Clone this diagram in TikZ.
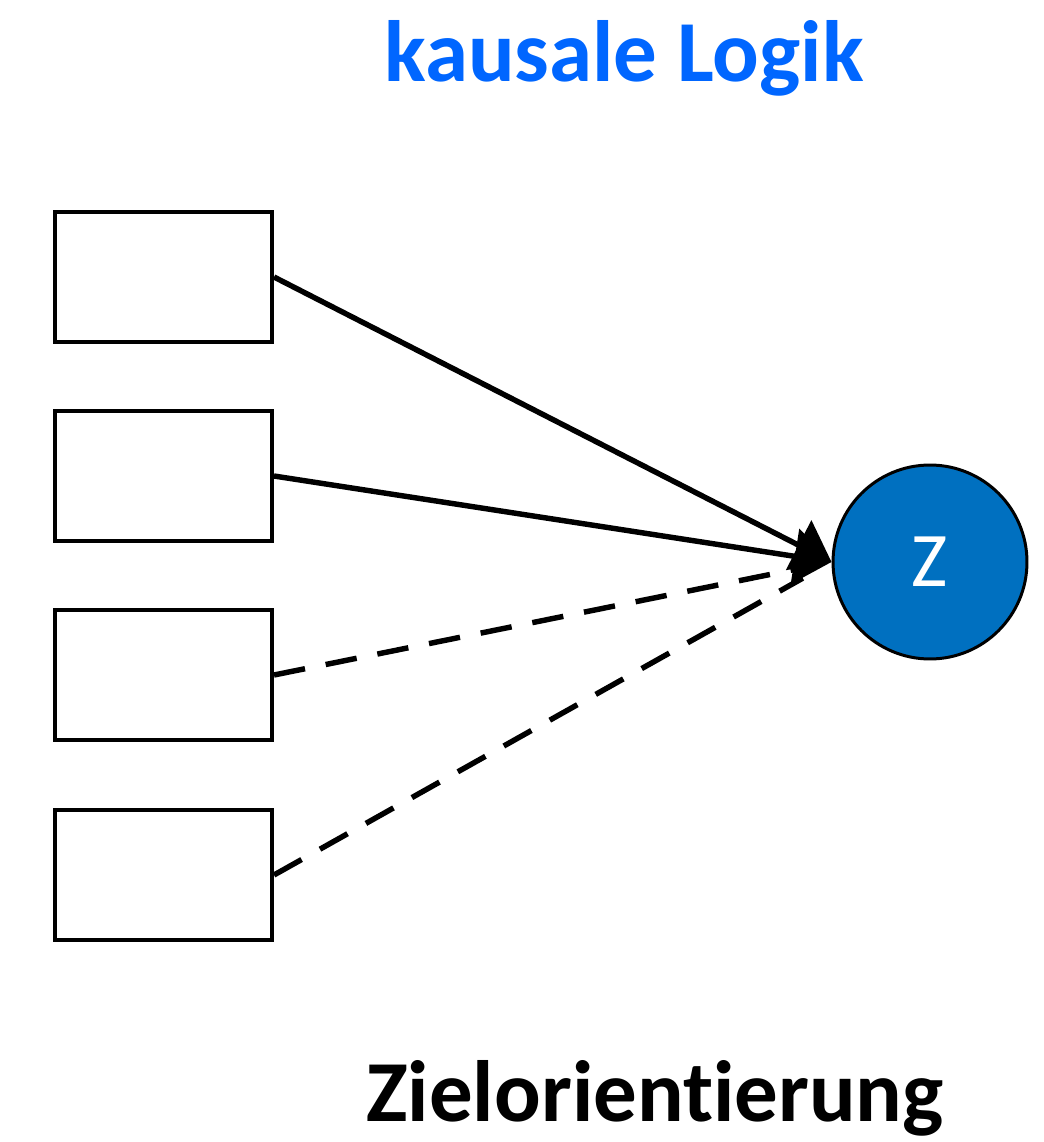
\documentclass[tikz,border=0pt]{standalone}
\usepackage{fontspec}
\setmainfont{Carlito}[Ligatures=NoCommon]
\usepackage{tikz}
\usetikzlibrary{
	arrows.meta,
	positioning
}
\definecolor{titelblau}{HTML}{0066FF}
\definecolor{zielblau}{HTML}{0070C0}

\begin{document}
\begin{tikzpicture}[
			x=0.02cm, y=-0.02cm,
			kasten/.style={draw, line width=2.3pt, minimum width=4.34cm, minimum height=2.6cm, inner sep=0pt, fill=white},
			ziel/.style={circle, draw, line width=1.7pt, fill=zielblau, text=white, minimum size=3.88cm, inner sep=0pt, font=\fontsize{44}{48}\selectfont},
			titel/.style={anchor=base, font=\fontsize{49.5}{54}\selectfont\bfseries},
			>={Triangle[length=0.74cm, width=1.1cm]},
			wirk/.style={->, line width=3.1pt},
			vermut/.style={line width=3.1pt, dash pattern=on 18pt off 12pt, shorten >=0.66cm}
		]
		\useasboundingbox (0,0) rectangle (1044,1142);

		% Ueberschrift
		\node[titel, text=titelblau] (kopf) at (624,82) {kausale Logik};

		% Ursachen und Ziel
		\node[kasten] (u1) at (163.5,277) {};
		\node[kasten] (u2) at (163.5,476) {};
		\node[kasten] (u3) at (163.5,675) {};
		\node[kasten] (u4) at (163.5,875) {};
		\node[ziel] (z) at (930,562) {Z};

		\draw[vermut] (u3.east) -- (z.west);
		\draw[vermut] (u4.east) -- (z.west);
		\draw[wirk] (u1.east) -- (z.west);
		\draw[wirk] (u2.east) -- (z.west);

		\node[titel] (fuss) at (655,1121) {Zielorientierung};
	\end{tikzpicture}
\end{document}
